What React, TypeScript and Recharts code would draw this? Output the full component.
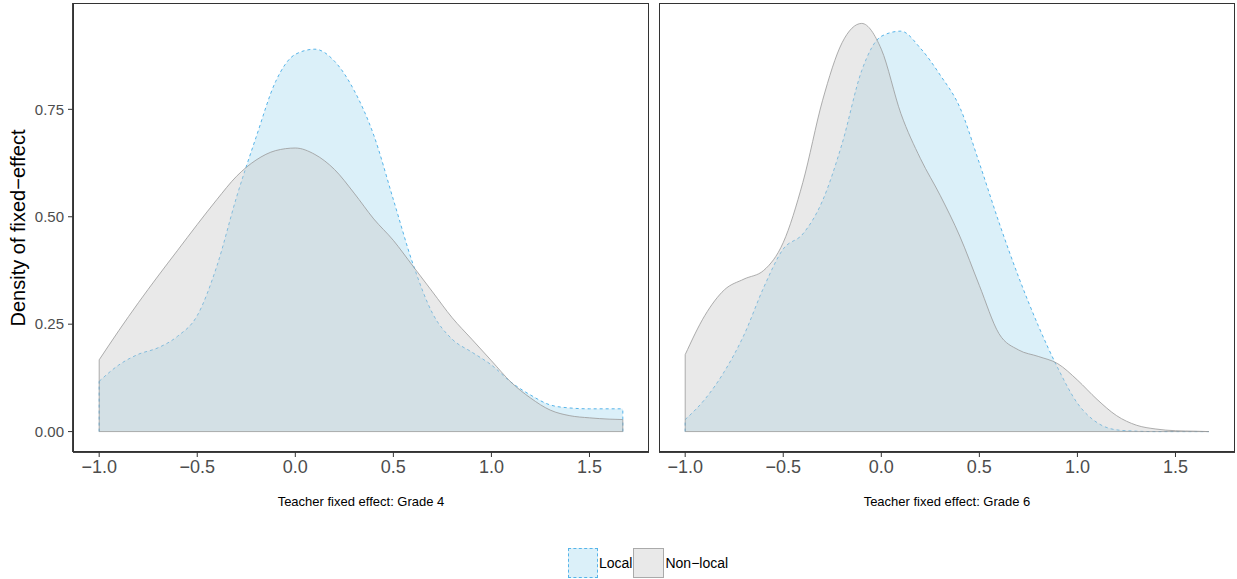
import React from 'react';
import { AreaChart, Area, XAxis, YAxis, ReferenceLine } from 'recharts';

const xGrid = [-1, -0.9, -0.8, -0.7, -0.6, -0.5, -0.4, -0.3, -0.2, -0.1, 0, 0.1, 0.2, 0.3, 0.4, 0.5, 0.6, 0.7, 0.8, 0.9, 1, 1.1, 1.2, 1.3, 1.4, 1.5, 1.6, 1.67];

const grade4Local = [0.117, 0.155, 0.18, 0.195, 0.222, 0.27, 0.385, 0.545, 0.685, 0.815, 0.878, 0.89, 0.862, 0.794, 0.69, 0.54, 0.39, 0.275, 0.215, 0.185, 0.155, 0.115, 0.085, 0.062, 0.055, 0.053, 0.053, 0.053];
const grade4NonLocal = [0.167, 0.235, 0.3, 0.362, 0.422, 0.482, 0.54, 0.594, 0.632, 0.654, 0.66, 0.645, 0.61, 0.555, 0.495, 0.445, 0.385, 0.325, 0.265, 0.215, 0.165, 0.115, 0.078, 0.05, 0.037, 0.032, 0.029, 0.028];

const grade6Local = [0.028, 0.075, 0.14, 0.225, 0.335, 0.425, 0.46, 0.537, 0.67, 0.84, 0.92, 0.932, 0.892, 0.83, 0.755, 0.625, 0.487, 0.36, 0.247, 0.148, 0.066, 0.021, 0.004, 0.001, 0, 0, 0, 0];
const grade6NonLocal = [0.179, 0.27, 0.33, 0.355, 0.375, 0.44, 0.58, 0.77, 0.905, 0.95, 0.89, 0.74, 0.635, 0.55, 0.455, 0.34, 0.228, 0.19, 0.175, 0.158, 0.12, 0.075, 0.037, 0.015, 0.006, 0.002, 0.001, 0];

const xTicks = [-1, -0.5, 0, 0.5, 1, 1.5];
const yTicks = [0, 0.25, 0.5, 0.75];
const xDomain = [-1.1335, 1.8035];
const yDomain = [-0.0475, 0.9975];

const panels = [
  { title: 'Teacher fixed effect: Grade 4', local: grade4Local, nonLocal: grade4NonLocal },
  { title: 'Teacher fixed effect: Grade 6', local: grade6Local, nonLocal: grade6NonLocal },
];

const FONT = 'Liberation Sans, Arial, Helvetica, sans-serif';
const LOCAL_FILL = '#87CEEB';
const LOCAL_LINE = '#56B4E9';
const NONLOCAL_FILL = '#C8C8C8';
const NONLOCAL_LINE = '#999999';

const fmtX = (v: number) => (v < 0 ? '\u2212' : '') + Math.abs(v).toFixed(1);

const PLOT_TOP = 3;
const PLOT_H = 449;

function Panel({ idx, left, width, marginLeft, yWidth }: { idx: number; left: number; width: number; marginLeft: number; yWidth: number }) {
  const p = panels[idx];
  const rows = xGrid.map((x, i) => ({ x, local: p.local[i], nonLocal: p.nonLocal[i] }));
  const first = xGrid[0];
  const last = xGrid[xGrid.length - 1];
  const n = xGrid.length - 1;
  const plotLeft = left + marginLeft + yWidth;
  const plotW = width - marginLeft - yWidth - 1;
  const showY = idx === 0;
  return (
    <>
      <div style={{ position: 'absolute', left, top: 0 }}>
        <AreaChart width={width} height={PLOT_TOP + PLOT_H + 40} data={rows} margin={{ top: PLOT_TOP, right: 1, bottom: 0, left: marginLeft }}>
          <XAxis
            dataKey="x"
            type="number"
            domain={xDomain}
            ticks={xTicks}
            allowDataOverflow
            tickFormatter={fmtX}
            height={40}
            tickSize={5}
            tickMargin={3}
            axisLine={{ stroke: '#000', strokeWidth: 1.5 }}
            tickLine={{ stroke: '#333' }}
            tick={{ fill: '#4D4D4D', fontSize: 18, fontFamily: FONT }}
          />
          <YAxis
            type="number"
            domain={yDomain}
            ticks={yTicks}
            allowDataOverflow
            width={yWidth}
            tickSize={showY ? 5 : 0}
            tickMargin={4}
            tick={showY ? { fill: '#4D4D4D', fontSize: 15, fontFamily: FONT } : false}
            tickFormatter={(v: number) => v.toFixed(2)}
            axisLine={{ stroke: '#000', strokeWidth: 1.5 }}
            tickLine={showY ? { stroke: '#333' } : false}
          />
          <Area type="monotone" dataKey="local" fill={LOCAL_FILL} fillOpacity={0.3} stroke={LOCAL_LINE} strokeWidth={1} strokeDasharray="3 3" isAnimationActive={false} />
          <Area type="monotone" dataKey="nonLocal" fill={NONLOCAL_FILL} fillOpacity={0.4} stroke={NONLOCAL_LINE} strokeWidth={0.8} isAnimationActive={false} />
          <ReferenceLine segment={[{ x: first, y: 0 }, { x: first, y: p.local[0] }]} stroke={LOCAL_LINE} strokeDasharray="3 3" />
          <ReferenceLine segment={[{ x: last, y: 0 }, { x: last, y: p.local[n] }]} stroke={LOCAL_LINE} strokeDasharray="3 3" />
          <ReferenceLine segment={[{ x: first, y: 0 }, { x: first, y: p.nonLocal[0] }]} stroke={NONLOCAL_LINE} strokeWidth={0.8} />
          <ReferenceLine segment={[{ x: last, y: 0 }, { x: last, y: p.nonLocal[n] }]} stroke={NONLOCAL_LINE} strokeWidth={0.8} />
          <ReferenceLine segment={[{ x: first, y: 0 }, { x: last, y: 0 }]} stroke={NONLOCAL_LINE} strokeWidth={0.8} />
        </AreaChart>
      </div>
      <div
        style={{
          position: 'absolute',
          left: plotLeft,
          top: PLOT_TOP,
          width: plotW,
          height: PLOT_H,
          border: '1px solid #333',
          boxSizing: 'border-box',
          pointerEvents: 'none',
        }}
      />
      <div
        style={{
          position: 'absolute',
          left: plotLeft,
          width: plotW,
          top: 494,
          textAlign: 'center',
          fontSize: 13,
          fontFamily: FONT,
          color: '#000',
        }}
      >
        {p.title}
      </div>
    </>
  );
}

export default function App() {
  return (
    <div style={{ position: 'absolute', left: 0, top: 0, width: 1237, height: 579, background: '#fff', fontFamily: FONT }}>
      <Panel idx={0} left={0} width={650} marginLeft={0} yWidth={73} />
      <Panel idx={1} left={650} width={586} marginLeft={9} yWidth={0} />
      <div
        style={{
          position: 'absolute',
          left: 18,
          top: 228,
          transform: 'translate(-50%, -50%) rotate(-90deg)',
          whiteSpace: 'nowrap',
          fontSize: 20,
          color: '#000',
        }}
      >
        Density of fixed{'\u2212'}effect
      </div>
      <div style={{ position: 'absolute', top: 548, left: 568, display: 'flex', alignItems: 'center', fontSize: 14, color: '#000' }}>
        <div style={{ width: 30, height: 30, boxSizing: 'border-box', border: `1px dashed ${LOCAL_LINE}`, background: '#DBF0F9' }} />
        <span style={{ marginLeft: 1, marginRight: 1 }}>Local</span>
        <div style={{ width: 31, height: 30, boxSizing: 'border-box', border: '1px solid #AAAAAA', background: '#E9E9E9' }} />
        <span style={{ marginLeft: 1 }}>Non{'\u2212'}local</span>
      </div>
    </div>
  );
}
